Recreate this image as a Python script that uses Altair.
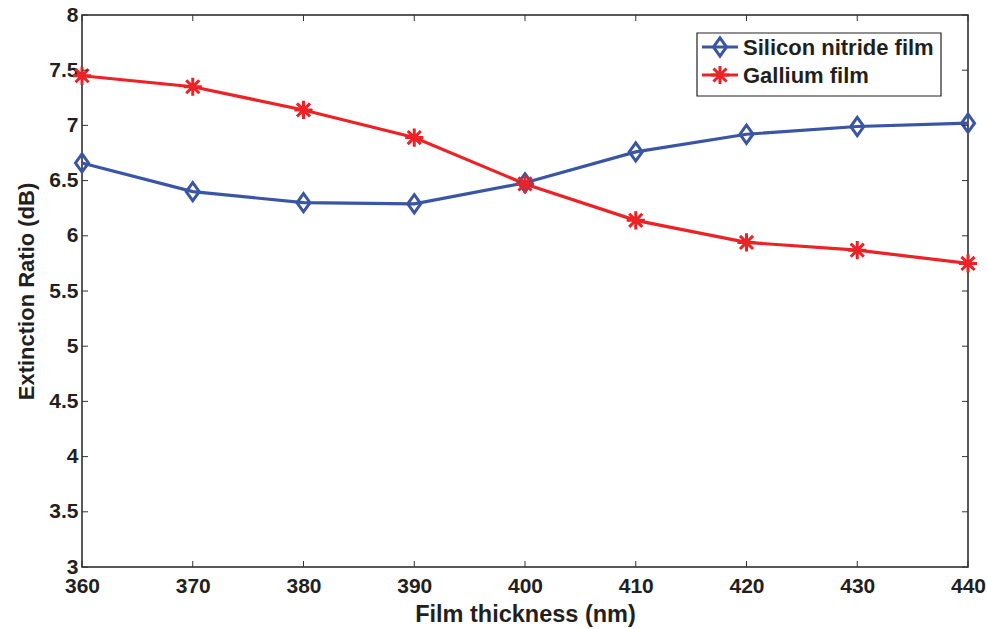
import altair as alt
import pandas as pd

thickness = [360, 370, 380, 390, 400, 410, 420, 430, 440]
silicon_nitride = [6.66, 6.40, 6.30, 6.29, 6.48, 6.76, 6.92, 6.99, 7.02]
gallium = [7.45, 7.35, 7.14, 6.89, 6.47, 6.14, 5.94, 5.87, 5.75]
series_names = ["Silicon nitride film", "Gallium film"]
x_ticks = [360, 370, 380, 390, 400, 410, 420, 430, 440]
y_ticks = [3, 3.5, 4, 4.5, 5, 5.5, 6, 6.5, 7, 7.5, 8]

BLUE = "#3A55A4"
RED = "#EC2227"
TXT = "#231f20"
FONT = "Liberation Sans"
W, H = 886, 552

diamond = "M0,-1L0.72,0L0,1L-0.72,0Z"
asterisk = "M0,-1L0,1M-1,0L1,0M-0.72,-0.72L0.72,0.72M-0.72,0.72L0.72,-0.72"

df = pd.DataFrame({
    "x": thickness * 2,
    "y": silicon_nitride + gallium,
    "s": [series_names[0]] * len(thickness) + [series_names[1]] * len(thickness),
})

xs = alt.Scale(domain=[360, 440], nice=False, zero=False)
ys = alt.Scale(domain=[3, 8], nice=False, zero=False)
color = alt.Scale(domain=series_names, range=[BLUE, RED])

xaxis = alt.Axis(values=x_ticks, tickSize=0, labelPadding=8, labelFont=FONT,
                 labelFontSize=21, labelFontWeight="bold", labelColor=TXT,
                 title="Film thickness (nm)", titleFont=FONT, titleFontSize=23.5,
                 titleFontWeight="bold", titleColor=TXT, titlePadding=6,
                 domain=False, grid=False, labelFlush=False)
yaxis = alt.Axis(values=y_ticks, tickSize=0, labelPadding=4, labelFont=FONT,
                 labelFontSize=21, labelFontWeight="bold", labelColor=TXT,
                 format=".1~f",
                 title="Extinction Ratio (dB)", titleFont=FONT, titleFontSize=22,
                 titleFontWeight="bold", titleColor=TXT, titlePadding=10,
                 domain=False, grid=False)

base = alt.Chart(df)
lines = base.mark_line(strokeWidth=3.2).encode(
    x=alt.X("x:Q", scale=xs, axis=xaxis),
    y=alt.Y("y:Q", scale=ys, axis=yaxis),
    color=alt.Color("s:N", scale=color, legend=None),
    detail="s:N",
)
blue_pts = alt.Chart(df[df.s == series_names[0]]).mark_point(
    shape=diamond, size=330, strokeWidth=3, filled=False, color=BLUE, opacity=1
).encode(x=alt.X("x:Q", scale=xs), y=alt.Y("y:Q", scale=ys))
red_pts = alt.Chart(df[df.s == series_names[1]]).mark_point(
    shape=asterisk, size=330, strokeWidth=3, filled=False, color=RED, opacity=1
).encode(x=alt.X("x:Q", scale=xs), y=alt.Y("y:Q", scale=ys))

# inward ticks (box style)
xt = pd.DataFrame({"t": x_ticks})
yt = pd.DataFrame({"t": y_ticks})
tk = dict(color="#333", strokeWidth=1)
xb = alt.Chart(xt).mark_rule(**tk).encode(x=alt.X("t:Q", scale=xs), y=alt.value(H), y2=alt.value(H - 6))
xtop = alt.Chart(xt).mark_rule(**tk).encode(x=alt.X("t:Q", scale=xs), y=alt.value(0), y2=alt.value(6))
yl = alt.Chart(yt).mark_rule(**tk).encode(y=alt.Y("t:Q", scale=ys), x=alt.value(0), x2=alt.value(6))
yr = alt.Chart(yt).mark_rule(**tk).encode(y=alt.Y("t:Q", scale=ys), x=alt.value(W), x2=alt.value(W - 6))

# legend
leg = pd.DataFrame({"s": series_names, "row": [0, 1]})
box = alt.Chart(leg.head(1)).mark_rect(fill="white", stroke="#222", strokeWidth=1.2).encode(
    x=alt.value(615), x2=alt.value(859), y=alt.value(18), y2=alt.value(81))
lb = alt.Chart(leg.head(1)).mark_rule(color=BLUE, strokeWidth=3.2).encode(
    x=alt.value(620), x2=alt.value(656), y=alt.value(32))
lr = alt.Chart(leg.tail(1)).mark_rule(color=RED, strokeWidth=3.2).encode(
    x=alt.value(620), x2=alt.value(656), y=alt.value(60))
mb = alt.Chart(leg.head(1)).mark_point(shape=diamond, size=330, strokeWidth=3, filled=False,
                                       color=BLUE, opacity=1).encode(x=alt.value(638), y=alt.value(32))
mr = alt.Chart(leg.tail(1)).mark_point(shape=asterisk, size=330, strokeWidth=3, filled=False,
                                       color=RED, opacity=1).encode(x=alt.value(638), y=alt.value(60))
tb = alt.Chart(leg.head(1)).mark_text(align="left", baseline="middle", font=FONT, fontSize=22,
                                      fontWeight="bold", color=TXT).encode(
    x=alt.value(661), y=alt.value(33), text="s:N")
tr = alt.Chart(leg.tail(1)).mark_text(align="left", baseline="middle", font=FONT, fontSize=22,
                                      fontWeight="bold", color=TXT).encode(
    x=alt.value(661), y=alt.value(61), text="s:N")

chart = alt.layer(lines, blue_pts, red_pts, xb, xtop, yl, yr, box, lb, lr, mb, mr, tb, tr).properties(
    width=W, height=H,
    padding={"left": 82, "top": 15, "right": 20, "bottom": 62},
    autosize=alt.AutoSizeParams(type="none"),
    background="white",
).configure_view(stroke="#222", strokeWidth=1.5)

chart.save("out.html", embed_options={"renderer": "svg", "actions": False})
